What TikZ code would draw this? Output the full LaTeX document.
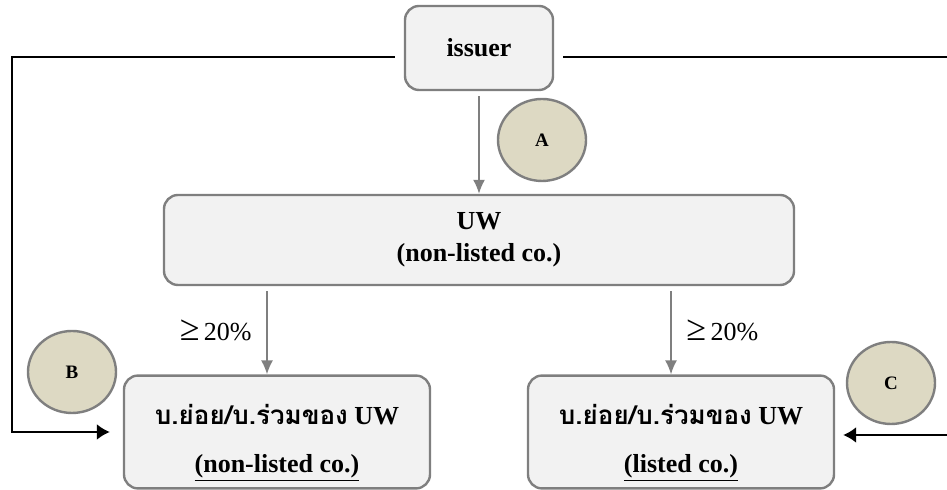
\documentclass[tikz,border=0pt]{standalone}
\usepackage{fontspec}
\setmainfont{Liberation Serif}
\newfontfamily\thaifont[Script=Thai]{Loma}
\usetikzlibrary{shapes.geometric,arrows.meta}
\definecolor{boxfill}{HTML}{F2F2F2}
\definecolor{boxline}{HTML}{7F7F7F}
\definecolor{markfill}{HTML}{DDD9C3}
\newcommand{\atleast}{{\fontsize{18}{16}\selectfont ≥}}
\tikzset{
  firm/.style   = {shape=rectangle, rounded corners=7pt,
                   draw=boxline, line width=1.2pt, fill=boxfill, align=center,
                   font=\fontsize{13}{16}\selectfont\bfseries},
  issuerbox/.style = {firm, minimum width=74pt, minimum height=42pt},
  uwbox/.style  = {firm, minimum width=315pt, minimum height=45pt},
  subbox/.style = {firm, minimum width=153pt, minimum height=55pt},
  marker/.style = {ellipse, draw=boxline, line width=1.2pt, fill=markfill,
                   minimum width=44pt, minimum height=41pt, inner sep=0pt,
                   font=\fontsize{9.5}{10}\selectfont\bfseries},
  share/.style  = {font=\fontsize{13}{16}\selectfont},
  link/.style   = {draw, line width=1pt, -{Latex[length=6.5pt,width=8pt]}}
}
\begin{document}
\begin{tikzpicture}
        [
            x = 0.5pt, y = 0.5pt,
            grow                    = down,
            level distance          = 96pt,
            sibling distance        = 202pt,
            edge from parent/.style = {draw=boxline, line width=0.8pt,
                                       -{Latex[length=7pt,width=6pt]}, shorten <=2.5pt},
            level 2/.style          = {edge from parent path =
                {([xshift=-5pt]\tikzchildnode.north |- \tikzparentnode.south)
                 -- ([xshift=-5pt]\tikzchildnode.north)}}
        ]
    \useasboundingbox (0,0) rectangle (947,490);
	\node [issuerbox] (issuer) at (479,442) {issuer}
        child { node [uwbox] (uw) {UW\\(non-listed co.)}
                child { node [subbox] (nonlisted) {\rule{0pt}{21pt}{\thaifont บ.ย่อย/บ.ร่วมของ} UW\\[8pt]\underline{(non-listed co.)}}
                        edge from parent node [share, left, xshift=-4pt] {\atleast\,20\%} }
                child { node [subbox] (listed) {\rule{0pt}{21pt}{\thaifont บ.ย่อย/บ.ร่วมของ} UW\\[8pt]\underline{(listed co.)}}
                        edge from parent node [share, right, xshift=4pt] {\atleast\,20\%} } };

    \node [marker] (markA) at (542,350) {A};
    \node [marker] (markB) at (72,118) {B};
    \node [marker] (markC) at (891,107) {C};

    \coordinate (nwturn) at (12,433);
    \coordinate (neturn) at (951,433);
    \draw [link, shorten >=6.5pt] ([xshift=-4.5pt]issuer.west |- nwturn) -- (nwturn) |- (nonlisted.west);
    \draw [link, shorten >=4pt] ([xshift=4.5pt]issuer.east |- neturn) -- (neturn) |- ([yshift=-1.5pt]listed.east);

    \end{tikzpicture}
\end{document}
